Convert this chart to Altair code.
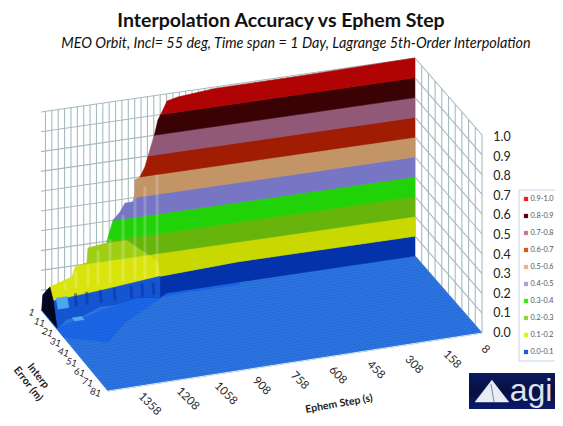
import altair as alt
import pandas as pd

FONT = "Lato"
W, H = 547, 410

levels = [round(i * 0.1, 1) for i in range(11)]
band_names = ["0.0-0.1", "0.1-0.2", "0.2-0.3", "0.3-0.4", "0.4-0.5", "0.5-0.6", "0.6-0.7", "0.7-0.8", "0.8-0.9", "0.9-1.0"]
band_colors = ["#0432aa", "#c8d800", "#66b40c", "#22d208", "#7676c4", "#c29466", "#a01c02", "#915878", "#3a0204", "#b00404"]
legend_colors = ["#1a5ad8", "#e6ee18", "#88dc38", "#38e818", "#a8a0e0", "#f0b090", "#d85a18", "#c87898", "#5a0018", "#ee1c28"]

ridge_step = [8, 423, 730, 864, 903, 918, 936, 947, 965, 983, 1001, 1019, 1019, 1026, 1055, 1073, 1098, 1116, 1120, 1188, 1192, 1235, 1246, 1326, 1351, 1355]
ridge_z = [1.0, 0.993, 0.992, 0.976, 0.964, 0.921, 0.874, 0.811, 0.729, 0.646, 0.600, 0.588, 0.522, 0.480, 0.478, 0.437, 0.402, 0.320, 0.290, 0.279, 0.204, 0.192, 0.144, 0.110, 0.075, 0.0]
contour_steps = [8, 300, 600, 900, 1100, 1300]
c0 = [(8, 1), (650, 1.5), (907, 2), (940, 5), (1012, 2), (1104, 5.4), (1158, 5), (1237, 11), (1299, 12), (1355, 19)]
c1 = [(8, 1), (650, 1), (937, 4), (1168, 9), (1347, 12)]
shelf_pts = [(647, 4), (840, 4), (931, 5), (1122, 23), (1227, 38), (1358, 28), (1355, 19), (1000, 1), (647, 1)]
left_blue_pts = [(937, 4, .1), (1168, 9, .1), (1347, 12, .1), (1355, 19, 0), (1299, 12, 0), (1237, 11, 0), (1158, 5, 0), (1104, 5.4, 0), (1012, 2, 0), (940, 5, 0)]
glow_pts = [(1120, 1, .29), (1188, 1, .279), (1192, 1, .204), (1235, 1, .192), (1246, 1, .144), (1326, 1, .11), (1347, 12, .1), (1168, 9, .1), (937, 4, .1), (937, 1, .16), (1050, 1, .29)]
black_pts = [(1355, 1, 0), (1351, 1, .075), (1326, 1, .11), (1320, 3, .05), (1355, 19, 0)]
cyan_a = [(1310, 3, .06), (1270, 3, .06), (1270, 5, .015), (1310, 5, .015)]
cyan_b = [(1280, 12, 0), (1245, 12, 0), (1245, 15, 0), (1280, 15, 0)]
rib_steps = [939, 983, 1019, 1062, 1109, 1152, 1188, 1232, 1271]
rib_tops = [.60, .55, .50, .42, .31, .26, .19, .17, .12]
rib_dark_steps = [960, 1000, 1040, 1100, 1150, 1200, 1240]

step_ticks = [1358, 1208, 1058, 908, 758, 608, 458, 308, 158, 8]
err_ticks = [1, 11, 21, 31, 41, 51, 61, 71, 81]
z_ticks = levels


def P(s, e, z):
    S, E = s - 8, e - 1
    return (415 - 0.277 * S + 0.8375 * E,
            256 + 0.04 * S + 0.9625 * E + 4 * (S / 1350) * (E / 80) - 198 * z)


xs = alt.Scale(domain=[8, 8 + W])
ys = alt.Scale(domain=[8 + H, 8])
X = alt.X("px:Q", scale=xs, axis=None)
Y = alt.Y("py:Q", scale=ys, axis=None)


def poly(pts3, color, opacity=1.0):
    rows = []
    for i, p in enumerate(pts3):
        x, y = P(*p)
        rows.append({"i": i, "px": x, "py": y})
    return alt.Chart(pd.DataFrame(rows)).mark_line(fill=color, stroke=color, strokeWidth=0.6, opacity=opacity).encode(
        x=X, y=Y, order="i:Q")


def lines(segs, color, width, opacity=1.0):
    rows = []
    for k, seg in enumerate(segs):
        for i, p in enumerate(seg):
            x, y = P(*p)
            rows.append({"k": k, "i": i, "px": x, "py": y})
    return alt.Chart(pd.DataFrame(rows)).mark_line(stroke=color, strokeWidth=width, opacity=opacity).encode(
        x=X, y=Y, detail="k:N", order="i:Q")


def text(s, x, y, size, weight="normal", style="normal", angle=0, color="#222222", align="center", baseline="middle", font=FONT):
    return alt.Chart(pd.DataFrame({"t": [s], "px": [x], "py": [y]})).mark_text(
        fontSize=size, fontWeight=weight, fontStyle=style, angle=angle, color=color, align=align,
        baseline=baseline, font=font).encode(x=X, y=Y, text="t:N")


def ridge_cross(L):
    for i in range(len(ridge_z) - 1):
        a, b = ridge_z[i], ridge_z[i + 1]
        if a >= L >= b and a != b:
            t = (a - L) / (a - b)
            return i, ridge_step[i] + t * (ridge_step[i + 1] - ridge_step[i])
    return len(ridge_z) - 2, ridge_step[-1]


def contour(L):
    if L == 0.0:
        return [(s, e, 0.0) for s, e in c0]
    if L == 0.1:
        return [(s, e, 0.1) for s, e in c1]
    _, sc = ridge_cross(L)
    return [(s, 1, L) for s in contour_steps if s < sc]


layers = []
# walls
wall_color = "#a6babe"
layers.append(poly([(8, 1, 0), (8, 1, 1), (1358, 1, 1), (1358, 1, 0)], "#ffffff"))
segs = [[(1358, 1, z), (8, 1, z)] for z in levels] + [[(8, 1, z), (8, 81, z)] for z in levels]
segs += [[(s, 1, 0), (s, 1, 1)] for s in range(8, 1359, 23)]
segs += [[(8, e, 0), (8, e, 1)] for e in range(1, 82, 8)]
layers.append(lines(segs, wall_color, 1.1))
# floor
layers.append(poly([(8, 1, 0), (8, 81, 0), (1358, 81, 0), (1358, 1, 0)], "#2d76e4"))
layers.append(poly([(s, e, 0) for s, e in shelf_pts], "#1c68ec"))
mesh = [[(s * 0.5 + 8, 1, 0), (s * 0.5 + 8, 81, 0)] for s in range(0, 2701, 25)]
mesh += [[(8, e * 0.5 + 1, 0), (1358, e * 0.5 + 1, 0)] for e in range(0, 161, 5)]
layers.append(lines(mesh, "#14479c", 0.45, 0.38))
layers.append(lines([[(8, 81, 0), (1358, 81, 0)]], "#dce8f5", 1.0))

# surface bands
for i in range(10):
    low, up = levels[i], levels[i + 1]
    iu, su = ridge_cross(up)
    il, sl = ridge_cross(low)
    pts = list(contour(up))
    if up == 1.0:
        pts = [(8, 1, 1.0)]
    pts.append((su, 1, up))
    for j in range(iu + 1, il + 1):
        pts.append((ridge_step[j], 1, ridge_z[j]))
    pts.append((sl, 1, low))
    pts += list(reversed(contour(low)))
    layers.append(poly(pts, band_colors[i]))

layers.append(poly(glow_pts, "#f4f820", 0.4))
layers.append(poly(left_blue_pts, "#1456d2"))
layers.append(poly(cyan_a, "#4fa4ee"))
layers.append(poly(cyan_b, "#55aaf0"))
ribs = [[(s, 1, t), (s, 1, 0.085)] for s, t in zip(rib_steps, rib_tops)]
layers.append(lines(ribs, "#ffffff", 3.0, 0.2))
low_ribs = [[(s, 3, 0.07), (s, 4, 0.01)] for s in rib_dark_steps]
layers.append(lines(low_ribs, "#0a2c9c", 3.0, 0.5))
layers.append(poly(black_pts, "#05071c"))

# tick labels
for k, s in enumerate(step_ticks):
    layers.append(text(str(s), 140 + 38.1 * k, 395 - 5.3 * k, 11.5, angle=45, align="left", color="#2a2a2a"))
for k, e in enumerate(err_ticks):
    layers.append(text(str(e), 31.5 + 8 * k, 312.5 + 10 * k, 9.5, angle=20, color="#2a2a2a"))
for z in z_ticks:
    layers.append(text(f"{z:.1f}", 502, 333 - 196 * z, 12.5, color="#222222"))
layers.append(text("Interp", 38, 376, 10.5, weight="bold", angle=52))
layers.append(text("Error (m)", 28, 384, 10.5, weight="bold", angle=52))
layers.append(text("Ephem Step (s)", 339, 404, 10.5, weight="bold", angle=350))

# titles
layers.append(text("Interpolation Accuracy vs Ephem Step", 281, 21, 19.5, weight="bold", color="#111111"))
layers.append(text("MEO Orbit, Incl= 55 deg, Time span = 1 Day, Lagrange 5th-Order Interpolation", 296, 44, 14.4, style="italic", color="#111111"))

# legend
box = pd.DataFrame({"px": [519], "px2": [560], "py": [190], "py2": [361]})
layers.append(alt.Chart(box).mark_rect(fill="#ffffff", stroke="#c3d3e6", strokeWidth=1).encode(
    x=X, x2="px2:Q", y=Y, y2="py2:Q"))
for k in range(10):
    idx = 9 - k
    yy = 199 + 17 * k
    layers.append(alt.Chart(pd.DataFrame({"px": [526], "py": [yy]})).mark_square(size=18, color=legend_colors[idx], opacity=1).encode(x=X, y=Y))
    layers.append(text(band_names[idx], 530.5, yy, 7.3, align="left", color="#555555"))

# logo
logo = pd.DataFrame({"px": [469], "px2": [560], "py": [373], "py2": [409]})
grad = alt.LinearGradient(gradient="linear", stops=[alt.GradientStop(color="#0a1a60", offset=0), alt.GradientStop(color="#07103f", offset=0.5), alt.GradientStop(color="#0a1a70", offset=1)], x1=0, x2=0, y1=0, y2=1)
layers.append(alt.Chart(logo).mark_rect(color=grad).encode(x=X, x2="px2:Q", y=Y, y2="py2:Q"))
tri = pd.DataFrame({"i": [0, 1, 2], "px": [492, 475, 509], "py": [380, 402, 402]})
layers.append(alt.Chart(tri).mark_line(fill="#e8ecf4", stroke="#e8ecf4", strokeWidth=0.5).encode(x=X, y=Y, order="i:Q"))
slit = pd.DataFrame({"i": [0, 1], "px": [491, 494], "py": [384, 402]})
layers.append(alt.Chart(slit).mark_line(stroke="#8c96b4", strokeWidth=1.2).encode(x=X, y=Y, order="i:Q"))
layers.append(text("agi", 531, 401, 32, color="#dfe3ee", baseline="alphabetic", font="Liberation Sans"))

chart = alt.layer(*layers).properties(width=W, height=H, padding=0, autosize=alt.AutoSizeParams(type="none")).configure_view(stroke=None)
chart.save("out.html", embed_options={"renderer": "svg", "actions": False})
